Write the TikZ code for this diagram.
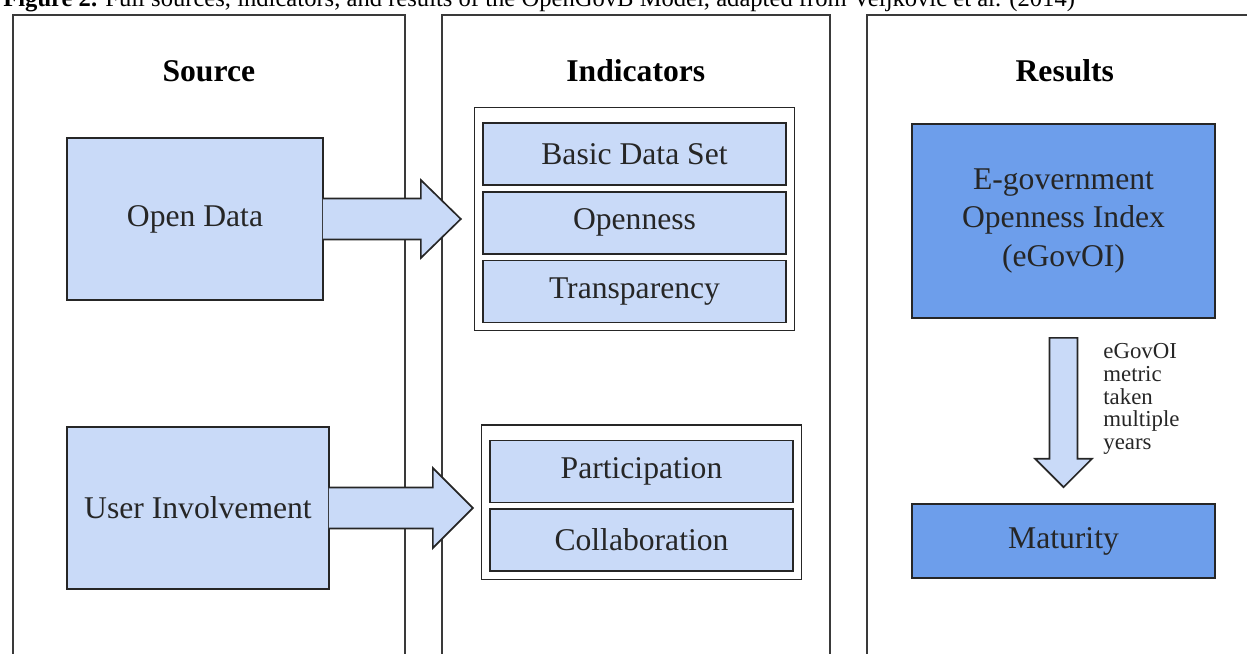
\documentclass[tikz,border=0pt]{standalone}
\usepackage{fontspec}
\setmainfont{Liberation Serif}
\usepackage{tikz}
\usetikzlibrary{positioning,fit}
\definecolor{OgbLight}{HTML}{C9DAF8}
\definecolor{OgbDeep}{HTML}{6D9EEB}
\definecolor{OgbInk}{HTML}{262626}
\definecolor{OgbFrame}{HTML}{3A3A3A}

\begin{document}
\begin{tikzpicture}[
  x=1cm,
  y=1cm,
  font=\fontsize{18}{21.8}\selectfont,
  panel/.style={draw=OgbFrame, line width=0.95pt, anchor=north west, minimum height=14cm, inner sep=0pt},
  heading/.style={font=\fontsize{18}{21.8}\selectfont\bfseries, anchor=base},
  box/.style={draw=OgbInk, line width=0.95pt, align=center, inner sep=0pt, text=OgbInk},
  srcbox/.style={box, fill=OgbLight, minimum height=3.24cm},
  indbox/.style={box, fill=OgbLight, minimum width=6.06cm, minimum height=1.24cm},
  groupframe/.style={draw=OgbInk, line width=0.9pt, inner sep=0.15cm},
  resbox/.style={box, fill=OgbDeep, minimum width=6.07cm},
  blockarrow/.style={draw=OgbInk, line width=0.95pt, fill=OgbLight, line join=miter},
  note/.style={font=\fontsize{13}{13}\selectfont, text=OgbInk, align=left, inner sep=0pt}
]
\useasboundingbox (0,0) rectangle (24.94,-13.08);
\clip (0,0) rectangle (24.94,-13.08);

\node[anchor=base west, inner sep=0pt, font=\fontsize{14}{16}\selectfont] (caption) at (0.06,-0.14)
  {\textbf{Figure 2.} Full sources, indicators, and results of the OpenGovB Model, adapted from Veljković et al. (2014)};

% three columns
\node[panel, minimum width=7.84cm] (srcpanel) at (0.24,-0.28) {};
\node[panel, minimum width=7.76cm] (indpanel) at (8.82,-0.28) {};
\node[panel, minimum width=7.92cm] (respanel) at (17.32,-0.28) {};

\node[heading] (srchead) at ([yshift=-1.36cm]srcpanel.north) {Source};
\node[heading] (indhead) at ([yshift=-1.36cm]indpanel.north) {Indicators};
\node[heading] (reshead) at ([yshift=-1.36cm]respanel.north) {Results};

% sources
\node[srcbox, minimum width=5.12cm] (opendata) at (3.9,-4.38) {Open Data};
\node[srcbox, minimum width=5.24cm] (userinv) at (3.96,-10.16) {User Involvement};
\coordinate (odtip) at ([xshift=27.4mm]opendata.east);
\coordinate (uitip) at ([xshift=28.6mm]userinv.east);

% indicators
\node[indbox] (basicset) at (12.69,-3.08) {Basic Data Set};
\node[indbox, below=0.1cm of basicset] (openness) {Openness};
\node[indbox, below=0.1cm of openness] (transp) {Transparency};
\coordinate (grpAtop) at ([yshift=1.4mm]basicset.north);
\node[groupframe, fit=(grpAtop) (transp)] (indgroupA) {};

\node[indbox] (particip) at (12.83,-9.43) {Participation};
\node[indbox, below=0.1cm of particip] (collab) {Collaboration};
\coordinate (grpBtop) at ([yshift=1.4mm]particip.north);
\node[groupframe, fit=(grpBtop) (collab)] (indgroupB) {};

% results
\node[resbox, minimum height=3.88cm] (egovoi) at (21.27,-4.42) {E-government\\Openness Index\\(eGovOI)};
\node[resbox, minimum height=1.48cm] (maturity) at (21.27,-10.82) {Maturity};
\node[note, anchor=west] (metricnote) at (22.06,-7.98) {eGovOI\\metric\\taken\\multiple\\years};

% block arrows
\draw[blockarrow] ([xshift=-0.6pt,yshift=4.1mm]opendata.east) -- ([shift={(-0.8,0.41)}]odtip) -- ([shift={(-0.8,0.78)}]odtip) -- (odtip) -- ([shift={(-0.8,-0.78)}]odtip) -- ([shift={(-0.8,-0.41)}]odtip) -- ([xshift=-0.6pt,yshift=-4.1mm]opendata.east);
\draw[blockarrow] ([xshift=-0.6pt,yshift=4.1mm]userinv.east) -- ([shift={(-0.8,0.41)}]uitip) -- ([shift={(-0.8,0.8)}]uitip) -- (uitip) -- ([shift={(-0.8,-0.8)}]uitip) -- ([shift={(-0.8,-0.41)}]uitip) -- ([xshift=-0.6pt,yshift=-4.1mm]userinv.east);
\draw[blockarrow] ([shift={(-0.28,-0.38)}]egovoi.south) -- ([shift={(-0.28,0.89)}]maturity.north) -- ([shift={(-0.57,0.89)}]maturity.north) -- ([yshift=3.2mm]maturity.north) -- ([shift={(0.57,0.89)}]maturity.north) -- ([shift={(0.28,0.89)}]maturity.north) -- ([shift={(0.28,-0.38)}]egovoi.south) -- cycle;
\end{tikzpicture}
\end{document}
